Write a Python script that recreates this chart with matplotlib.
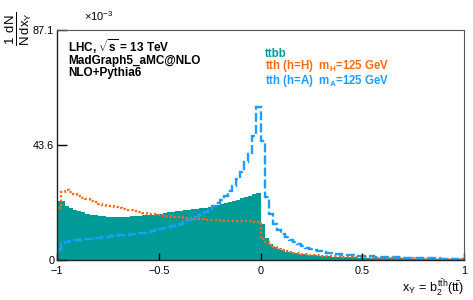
#!/usr/bin/env python3

import numpy as np
import matplotlib
matplotlib.use("Agg")
import matplotlib.pyplot as plt

plt.rcParams['font.family'] = ['Liberation Sans', 'DejaVu Sans']
plt.rcParams['mathtext.fontset'] = 'custom'
plt.rcParams['mathtext.rm'] = 'Liberation Sans'
plt.rcParams['mathtext.it'] = 'Liberation Sans'
plt.rcParams['mathtext.bf'] = 'Liberation Sans:bold'

# 100 bins from -1 to 1, values in units of 1e-3
edges = np.linspace(-1, 1, 101)

ttbb = [
    22.4, 22.2, 20.6, 19.6, 18.9, 18.4, 18.0, 17.6, 17.2, 16.9,
    16.7, 16.5, 16.4, 16.3, 16.3, 16.3, 16.3, 16.4, 16.5, 16.6,
    16.7, 16.9, 17.0, 17.2, 17.4, 17.6, 17.8, 18.0, 18.2, 18.4,
    18.6, 18.8, 19.0, 19.2, 19.4, 19.6, 19.8, 20.1, 20.4, 20.7,
    21.1, 21.5, 21.9, 22.3, 22.8, 23.3, 23.8, 24.3, 24.9, 25.5,
    13.5, 8.5, 6.2, 5.0, 4.2, 3.6, 3.2, 2.9, 2.6, 2.4,
    2.2, 2.0, 1.9, 1.75, 1.6, 1.5, 1.4, 1.3, 1.25, 1.2,
    1.1, 1.05, 1.0, 0.95, 0.9, 0.85, 0.82, 0.78, 0.75, 0.72,
    0.68, 0.65, 0.62, 0.6, 0.57, 0.55, 0.52, 0.5, 0.48, 0.46,
    0.44, 0.42, 0.4, 0.38, 0.36, 0.34, 0.32, 0.3, 0.28, 0.25,
]

tth_H = [
    19.7, 25.8, 26.4, 25.8, 25.0, 24.3, 23.6, 23.0, 22.4, 21.8,
    21.3, 20.9, 20.6, 20.3, 20.0, 19.7, 19.4, 19.1, 18.8, 18.5,
    18.2, 17.9, 17.6, 17.4, 17.2, 17.0, 16.8, 16.6, 16.4, 16.3,
    16.1, 16.0, 15.9, 15.7, 15.6, 15.4, 15.3, 15.2, 15.1, 15.0,
    14.9, 14.9, 14.8, 14.8, 14.7, 14.7, 14.6, 14.6, 14.5, 14.5,
    7.8, 6.8, 5.6, 4.8, 4.2, 3.7, 3.3, 3.0, 2.7, 2.5,
    2.3, 2.1, 2.0, 1.9, 1.8, 1.7, 1.6, 1.5, 1.4, 1.35,
    1.3, 1.2, 1.15, 1.1, 1.05, 1.0, 0.95, 0.9, 0.87, 0.83,
    0.8, 0.76, 0.73, 0.7, 0.67, 0.64, 0.61, 0.58, 0.56, 0.54,
    0.52, 0.5, 0.48, 0.46, 0.44, 0.42, 0.4, 0.38, 0.36, 0.33,
]

tth_A = [
    3.8, 6.3, 7.0, 7.3, 7.5, 7.7, 7.8, 8.0, 8.1, 8.3,
    8.4, 8.6, 8.8, 8.9, 9.1, 9.3, 9.4, 9.6, 9.8, 10.0,
    10.2, 10.4, 10.6, 10.9, 11.2, 11.6, 12.0, 12.4, 12.8, 13.3,
    13.8, 14.4, 15.0, 15.6, 16.4, 17.2, 18.2, 19.2, 20.3, 21.5,
    22.8, 24.3, 26.0, 28.0, 30.5, 33.5, 37.0, 40.0, 47.0, 58.0,
    45.0, 24.0, 17.5, 13.5, 11.5, 10.0, 8.7, 7.6, 6.7, 5.9,
    5.2, 4.7, 4.2, 3.8, 3.4, 3.1, 2.8, 2.6, 2.4, 2.2,
    2.05, 1.9, 1.8, 1.7, 1.6, 1.5, 1.42, 1.35, 1.28, 1.2,
    1.14, 1.08, 1.02, 0.97, 0.92, 0.87, 0.83, 0.79, 0.75, 0.71,
    0.68, 0.65, 0.62, 0.59, 0.56, 0.53, 0.5, 0.47, 0.44, 0.4,
]

yticks = [0, 43.6, 87.1]
ytick_labels = ["0", "43.6", "87.1"]
xticks = [-1, -0.5, 0, 0.5, 1]
xtick_labels = ["\u22121", "\u22120.5", "0", "0.5", "1"]

c_teal = "#009b96"
c_orange = "#ff6a10"
c_blue = "#1e9cff"

fig = plt.figure(figsize=(4.73, 3.0), dpi=100)
ax = fig.add_axes([57 / 473, 1 - 260 / 300, (464 - 57) / 473, (260 - 30) / 300])

ax.stairs(ttbb, edges, fill=True, color=c_teal, lw=0)
ax.stairs(tth_H, edges, color=c_orange, lw=1.6, linestyle=(0, (1, 1)))
ax.stairs(tth_A, edges, color=c_blue, lw=1.7, linestyle=(0, (3.8, 1.3)))

ax.set_xlim(-1, 1)
ax.set_ylim(0, 87.1)
ax.set_xticks(xticks)
ax.set_xticklabels(xtick_labels)
ax.set_yticks(yticks)
ax.set_yticklabels(ytick_labels)
ax.tick_params(axis='y', direction='in', length=7.2, width=1, labelsize=7.8, pad=2)
ax.tick_params(axis='x', direction='in', length=5, width=1, labelsize=7.8, pad=4)
for s in ['top', 'right']:
    ax.spines[s].set_color('#555555')
    ax.spines[s].set_linewidth(0.8)
for s in ['left', 'bottom']:
    ax.spines[s].set_color('#222222')
    ax.spines[s].set_linewidth(1.0)

# axis titles
fig.text(19 / 473, 1 - 12 / 300, r'$\frac{1}{N}\frac{dN}{dx_{Y}}$', rotation=90,
         ha='center', va='top', fontsize=13.5)
fig.text(84 / 473, 1 - 23 / 300, r'$\times 10^{-3}$', fontsize=8,
         ha='left', va='bottom')
fig.text(464 / 473, 1 - 298 / 300, r'$x_{Y}\,=\,b_{2}^{t\bar{t}h}(t\bar{t})$',
         fontsize=9, ha='right', va='bottom')

# labels inside the plot
fig.text(68 / 473, 1 - 52 / 300, r'LHC, $\mathbf{\sqrt{s}}$ = 13 TeV',
         fontsize=8.5, fontweight='bold')
fig.text(68 / 473, 1 - 64 / 300, 'MadGraph5_aMC@NLO', fontsize=8.5, fontweight='bold')
fig.text(68 / 473, 1 - 76 / 300, 'NLO+Pythia6', fontsize=8.5, fontweight='bold')

fig.text(265 / 473, 1 - 57 / 300, 'ttbb', color=c_teal, fontsize=8.3, fontweight='bold')
fig.text(265 / 473, 1 - 69.5 / 300, r'tth (h=H)  m$_{\mathbf{H}}$=125 GeV',
         color=c_orange, fontsize=8.3, fontweight='bold')
fig.text(265 / 473, 1 - 84 / 300, r'tth (h=A)  m$_{\mathbf{A}}$=125 GeV',
         color=c_blue, fontsize=8.3, fontweight='bold')

fig.savefig("out.png", dpi=100)
